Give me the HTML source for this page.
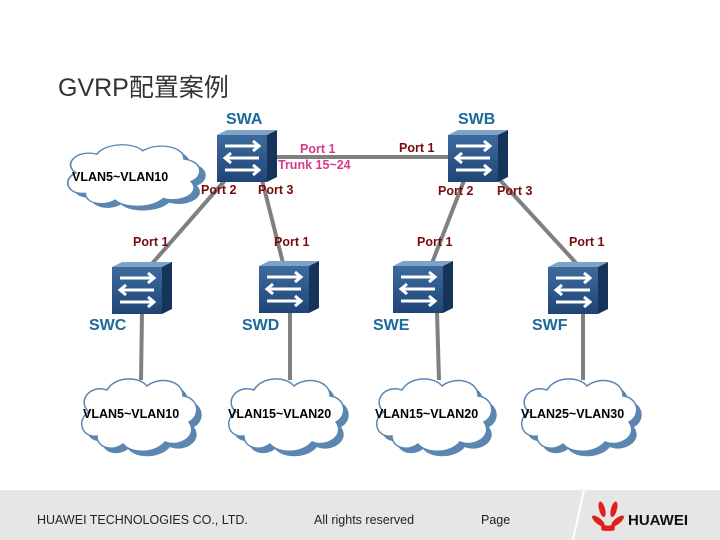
<!DOCTYPE html>
<html><head><meta charset="utf-8"><style>
html,body{margin:0;padding:0;background:#fff;}
svg{display:block;font-family:"Liberation Sans","Noto Sans CJK SC",sans-serif;}
.pr{fill:#7a0b0b;font-weight:bold;font-size:12.5px;}
.sw{fill:#1b6a9a;font-weight:bold;font-size:16px;}
.vl{fill:#000;font-weight:bold;font-size:12.5px;}
</style></head><body>
<svg width="720" height="540" viewBox="0 0 720 540">
<defs>
<linearGradient id="fg" x1="0" y1="0" x2="0" y2="1"><stop offset="0" stop-color="#3d6b9e"/><stop offset="1" stop-color="#1f4576"/></linearGradient>
<g id="swi">
<polygon points="0,5 10,0 60,0 50,5" fill="#7fa3c8"/>
<polygon points="50,5 60,0 60,47 50,52" fill="#163459"/>
<rect x="0" y="5" width="50" height="47" fill="url(#fg)"/>
<g stroke="#fff" stroke-width="3" fill="none">
<path d="M8,16 H42 M36,11 L42,16 L36,21"/>
<path d="M42,28 H8 M14,23 L8,28 L14,33"/>
<path d="M8,40 H42 M36,35 L42,40 L36,45"/>
</g>
</g>
<g id="cl">
<path d="M22,58 C5,60 2,40 14,34 C2,24 14,6 32,12 C40,-2 64,-2 72,8 C84,-2 108,2 108,18 C124,20 126,38 114,44 C124,58 104,70 90,64 C80,76 56,76 48,66 C38,74 22,70 22,58 Z" fill="#5b86b2" transform="translate(5,5)"/>
<path d="M22,58 C5,60 2,40 14,34 C2,24 14,6 32,12 C40,-2 64,-2 72,8 C84,-2 108,2 108,18 C124,20 126,38 114,44 C124,58 104,70 90,64 C80,76 56,76 48,66 C38,74 22,70 22,58 Z" fill="#fff" stroke="#5b86b2" stroke-width="1.5"/>
</g>
</defs>
<text x="58" y="96" font-size="25" fill="#333">GVRP配置案例</text>
<g stroke="#808080" stroke-width="4">
<line x1="275" y1="157" x2="448" y2="157"/>
<line x1="227" y1="178" x2="150" y2="266"/>
<line x1="262" y1="180" x2="283" y2="263"/>
<line x1="465" y1="178" x2="432" y2="263"/>
<line x1="500" y1="180" x2="576" y2="263"/>
<line x1="142" y1="312" x2="141" y2="380"/>
<line x1="290" y1="312" x2="290" y2="380"/>
<line x1="437" y1="312" x2="439" y2="380"/>
<line x1="583" y1="312" x2="583" y2="380"/>
</g>
<use href="#cl" transform="translate(60,144) scale(1.15,0.85)"/>
<use href="#cl" transform="translate(75,378)"/>
<use href="#cl" transform="translate(222,378)"/>
<use href="#cl" transform="translate(370,378)"/>
<use href="#cl" transform="translate(515,378)"/>
<use href="#swi" x="217" y="130"/>
<use href="#swi" x="448" y="130"/>
<use href="#swi" x="112" y="262"/>
<use href="#swi" x="259" y="261"/>
<use href="#swi" x="393" y="261"/>
<use href="#swi" x="548" y="262"/>
<text class="sw" x="226" y="124">SWA</text>
<text class="sw" x="458" y="124">SWB</text>
<text class="sw" x="89" y="330">SWC</text>
<text class="sw" x="242" y="330">SWD</text>
<text class="sw" x="373" y="330">SWE</text>
<text class="sw" x="532" y="330">SWF</text>
<text x="300" y="153" font-size="12.5" font-weight="bold" fill="#d63a8c">Port 1</text>
<text x="278" y="169" font-size="12.5" font-weight="bold" fill="#d63a8c">Trunk 15~24</text>
<text class="pr" x="399" y="152">Port 1</text>
<text class="pr" x="201" y="194">Port 2</text>
<text class="pr" x="258" y="194">Port 3</text>
<text class="pr" x="438" y="195">Port 2</text>
<text class="pr" x="497" y="195">Port 3</text>
<text class="pr" x="133" y="246">Port 1</text>
<text class="pr" x="274" y="246">Port 1</text>
<text class="pr" x="417" y="246">Port 1</text>
<text class="pr" x="569" y="246">Port 1</text>
<text class="vl" x="72" y="181">VLAN5~VLAN10</text>
<text class="vl" x="83" y="418">VLAN5~VLAN10</text>
<text class="vl" x="228" y="418">VLAN15~VLAN20</text>
<text class="vl" x="375" y="418">VLAN15~VLAN20</text>
<text class="vl" x="521" y="418">VLAN25~VLAN30</text>
<rect x="0" y="490" width="720" height="50" fill="#e6e6e6"/>
<line x1="584" y1="490" x2="573" y2="540" stroke="#fff" stroke-width="2"/>
<text x="37" y="524" font-size="12.5" fill="#222">HUAWEI TECHNOLOGIES CO., LTD.</text>
<text x="314" y="524" font-size="12.5" fill="#222">All rights reserved</text>
<text x="481" y="524" font-size="12.5" fill="#222">Page</text>
<g fill="#e0201b" transform="translate(608,516)">
<ellipse cx="-4" cy="-8" rx="3" ry="8" transform="rotate(-15)"/>
<ellipse cx="4" cy="-8" rx="3" ry="8" transform="rotate(15)"/>
<ellipse cx="-10" cy="-4" rx="3" ry="8" transform="rotate(-50)"/>
<ellipse cx="10" cy="-4" rx="3" ry="8" transform="rotate(50)"/>
<ellipse cx="-12" cy="2" rx="2.5" ry="7" transform="rotate(-80)"/>
<ellipse cx="12" cy="2" rx="2.5" ry="7" transform="rotate(80)"/>
</g>
<text x="628" y="525" font-size="15" font-weight="bold" fill="#111">HUAWEI</text>
</svg>
</body></html>
